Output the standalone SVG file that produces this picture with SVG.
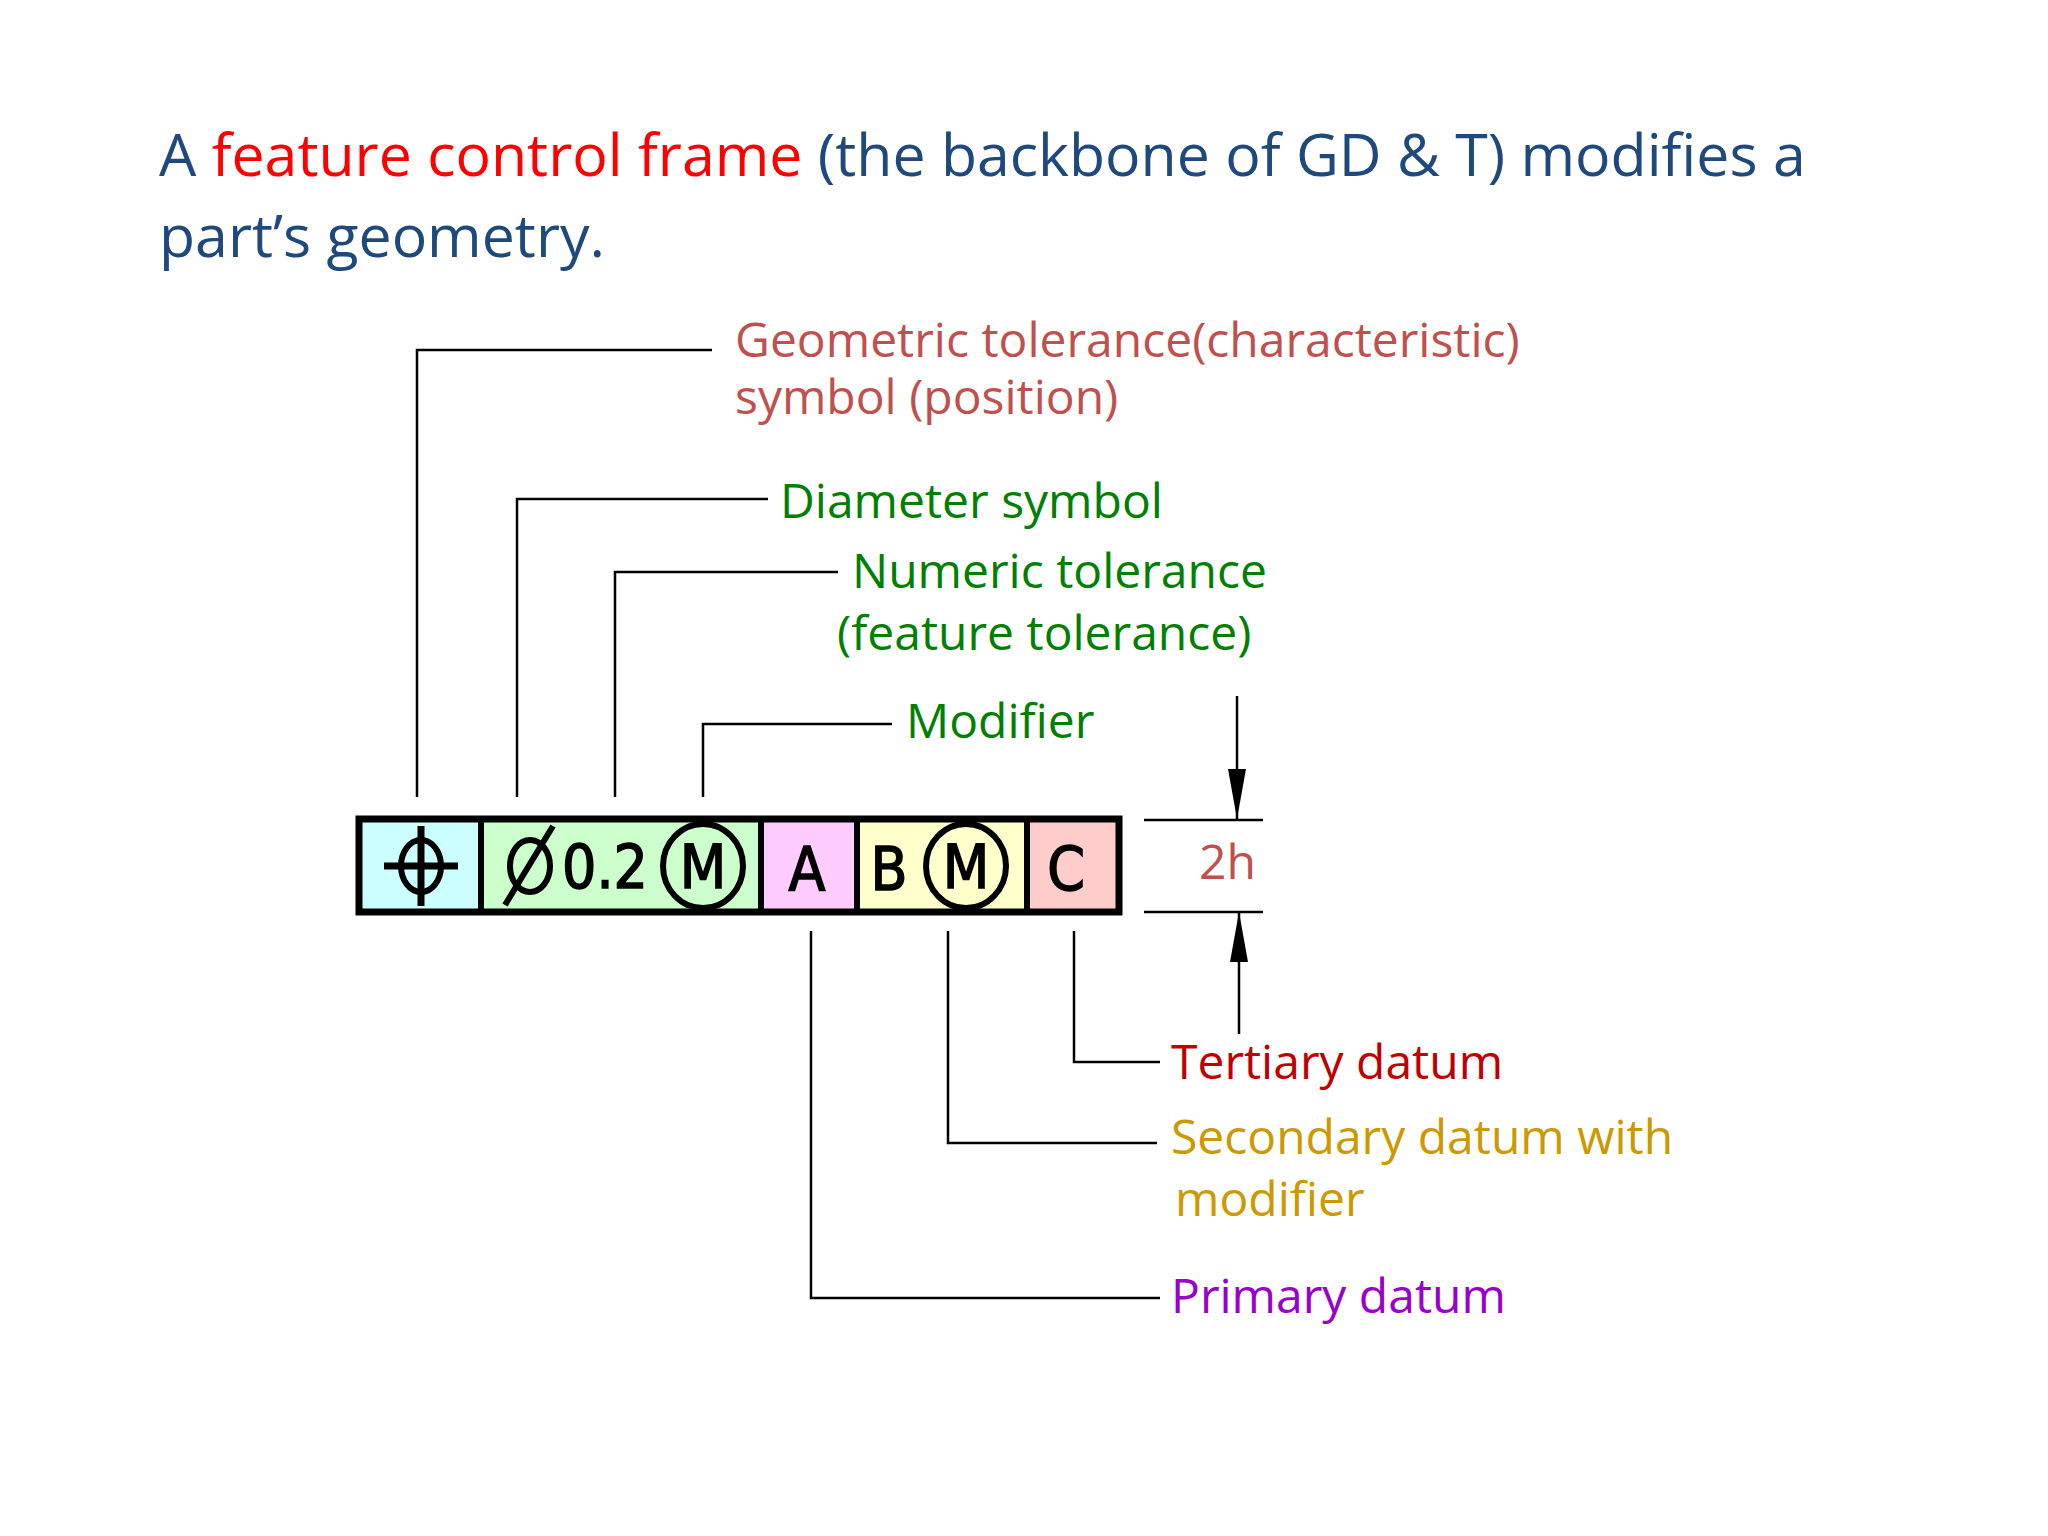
<svg xmlns="http://www.w3.org/2000/svg" width="2048" height="1536" viewBox="0 0 2048 1536">
<style>
.t{font-family:"Open Sans","Noto Sans",sans-serif;font-size:48px}
.ln{fill:none;stroke:#000;stroke-width:2.5}
.sym{font-family:"DejaVu Sans Condensed","DejaVu Sans",sans-serif;font-size:60px;fill:#000;text-anchor:middle;stroke:#000;stroke-width:1.5}
.c{fill:none;stroke:#000;stroke-width:6}
</style>
<defs><marker id="ah" viewBox="0 0 50 18" refX="50" refY="9" markerWidth="50" markerHeight="18" markerUnits="userSpaceOnUse" orient="auto"><path d="M0,0 L50,9 L0,18 Z" fill="#000"/></marker></defs>
<rect width="2048" height="1536" fill="#fff"/>
<text x="159" y="176" font-family="Open Sans,sans-serif" font-size="59" fill="#1f497d">A <tspan fill="#ff0000">feature control frame</tspan> (the backbone of GD &amp; T) modifies a</text>
<text x="159" y="257" font-family="Open Sans,sans-serif" font-size="59" fill="#1f497d">part’s geometry.</text>
<g id="frame">
<rect x="359" y="819" width="122" height="93" fill="#ccffff"/>
<rect x="481" y="819" width="280" height="93" fill="#ccffcc"/>
<rect x="761" y="819" width="96" height="93" fill="#ffccff"/>
<rect x="857" y="819" width="170" height="93" fill="#ffffcc"/>
<rect x="1027" y="819" width="92" height="93" fill="#ffcccc"/>
<rect x="359" y="819" width="760" height="93" fill="none" stroke="#000" stroke-width="7"/>
<path d="M481,819V912M761,819V912M857,819V912M1027,819V912" stroke="#000" stroke-width="6"/>
<ellipse cx="421" cy="866" rx="20" ry="26" class="c"/>
<path d="M384,866H458M421,826V906" stroke="#000" stroke-width="7"/>
<ellipse cx="530" cy="866" rx="20" ry="26" class="c"/>
<path d="M505,905L553,826" stroke="#000" stroke-width="6"/>
<text x="605" y="888" class="sym">0.2</text>
<ellipse cx="703" cy="866" rx="40" ry="42" class="c"/>
<text x="703" y="888" class="sym">M</text>
<text x="807" y="890" class="sym">A</text>
<text x="889" y="890" class="sym">B</text>
<ellipse cx="966" cy="866" rx="40" ry="42" class="c"/>
<text x="966" y="888" class="sym">M</text>
<text x="1066" y="890" class="sym">C</text>
</g>
<g id="labels" class="t">
<text x="735" y="357" fill="#c0504d">Geometric tolerance(characteristic)</text>
<text x="735" y="414" fill="#c0504d">symbol (position)</text>
<text x="780" y="518" fill="#008000">Diameter symbol</text>
<text x="852" y="588" fill="#008000">Numeric tolerance</text>
<text x="837" y="650" fill="#008000">(feature tolerance)</text>
<text x="906" y="738" fill="#008000">Modifier</text>
<text x="1199" y="879" fill="#c0504d">2h</text>
<text x="1171" y="1079" fill="#c00000">Tertiary datum</text>
<text x="1171" y="1154" fill="#cc9900">Secondary datum with</text>
<text x="1175" y="1216" fill="#cc9900">modifier</text>
<text x="1171" y="1313" fill="#9900cc">Primary datum</text>
</g>
<g id="connectors" class="ln">
<path d="M417,797V350H712"/>
<path d="M517,797V499H768"/>
<path d="M615,797V572H838"/>
<path d="M703,797V724H892"/>
<path d="M1074,931V1062H1160"/>
<path d="M948,931V1143H1157"/>
<path d="M811,931V1298H1160"/>
<path d="M1144,820H1263M1144,912H1263"/>
<path d="M1237,696V819" marker-end="url(#ah)"/>
<path d="M1239,1034V912" marker-end="url(#ah)"/>
</g>
</svg>
